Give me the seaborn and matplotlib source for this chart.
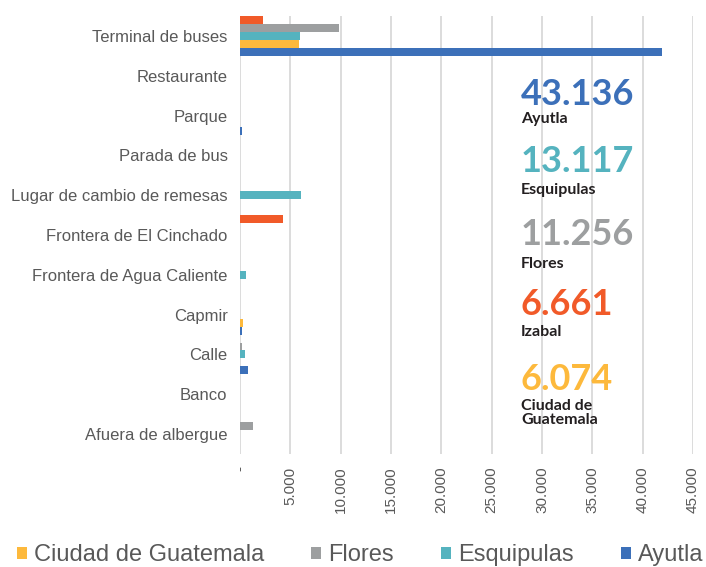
import matplotlib
matplotlib.use("Agg")
import matplotlib.pyplot as plt
import pandas as pd
import seaborn as sns
from matplotlib.ticker import FuncFormatter

lugares = ["Terminal de buses", "Restaurante", "Parque", "Parada de bus",
           "Lugar de cambio de remesas", "Frontera de El Cinchado",
           "Frontera de Agua Caliente", "Capmir", "Calle", "Banco",
           "Afuera de albergue"]

izabal = [2250, 0, 0, 0, 0, 4300, 0, 0, 0, 0, 0]
flores = [9840, 0, 0, 0, 0, 0, 0, 0, 170, 0, 1290]
esquipulas = [5930, 0, 0, 0, 6040, 0, 630, 0, 470, 0, 0]
ciudad_guatemala = [5830, 0, 0, 0, 0, 0, 0, 270, 0, 0, 0]
ayutla = [41900, 0, 150, 0, 0, 0, 0, 170, 830, 0, 0]

series = {
    "Izabal": izabal,
    "Flores": flores,
    "Esquipulas": esquipulas,
    "Ciudad de Guatemala": ciudad_guatemala,
    "Ayutla": ayutla,
}
colores = {
    "Izabal": "#F15A29",
    "Flores": "#9D9FA0",
    "Esquipulas": "#55B3BF",
    "Ciudad de Guatemala": "#FDB93C",
    "Ayutla": "#3C70B9",
}

# totales que aparecen a la derecha
totales = ["43.136", "13.117", "11.256", "6.661", "6.074"]
nombres_totales = ["Ayutla", "Esquipulas", "Flores", "Izabal", "Ciudad de\nGuatemala"]
colores_totales = ["Ayutla", "Esquipulas", "Flores", "Izabal", "Ciudad de Guatemala"]

filas = []
for ciudad, valores in series.items():
    for lugar, v in zip(lugares, valores):
        filas.append({"lugar": lugar, "ciudad": ciudad, "valor": v})
df = pd.DataFrame(filas)

sns.set_style("white")
plt.rcParams["font.family"] = ["Liberation Sans", "DejaVu Sans"]

fig = plt.figure(figsize=(7.06, 5.67), dpi=100)
ax = fig.add_axes([0.34, 0.1993, 0.6416, 0.7725])

sns.barplot(data=df, y="lugar", x="valor", hue="ciudad", order=lugares,
            hue_order=list(series.keys()), palette=colores, width=1.0,
            saturation=1, linewidth=0, orient="h", ax=ax)

ax.set_xlim(0, 45000)
ax.set_ylim(len(lugares) - 0.5, -0.5)
ax.set_xticks(range(0, 45001, 5000))
ax.xaxis.set_major_formatter(FuncFormatter(
    lambda v, p: "-" if v == 0 else f"{int(v):,}".replace(",", ".")))
ax.tick_params(axis="x", labelrotation=90, labelsize=11, colors="#595959",
               length=0, pad=9)
ax.tick_params(axis="y", labelsize=12, colors="#595959", length=0, pad=9)
for lab in ax.get_xticklabels():
    lab.set_verticalalignment("top")
ax.set_xlabel("")
ax.set_ylabel("")
ax.grid(axis="x", color="#D9D9D9", linewidth=1.3)
ax.set_axisbelow(True)
for s in ax.spines.values():
    s.set_visible(False)

handles, labels = ax.get_legend_handles_labels()
ax.get_legend().remove()
orden = ["Ciudad de Guatemala", "Flores", "Esquipulas", "Ayutla"]
h = [handles[labels.index(n)] for n in orden]
fig.legend(h, orden, loc="center left", bbox_to_anchor=(0.024, 0.021),
           ncol=4, frameon=False, fontsize=17, labelcolor="#595959",
           handlelength=0.42, handleheight=0.42, handletextpad=0.3,
           columnspacing=2.0, borderpad=0, borderaxespad=0)

# bloques de totales
base_num = [105, 172, 245, 315, 390]
top_nom = [112, 183, 257, 325, 399]
for t, n, c, yn, yl in zip(totales, nombres_totales, colores_totales, base_num, top_nom):
    fig.text(521 / 706, 1 - yn / 567, t, color=colores[c], fontsize=26,
             fontweight="bold", family="Lato", va="baseline", ha="left")
    fig.text(521 / 706, 1 - yl / 567, n, color="#231F20", fontsize=11.5,
             fontweight="bold", family="Lato", va="top", ha="left",
             linespacing=1.0)

fig.savefig("out.png", dpi=100)
